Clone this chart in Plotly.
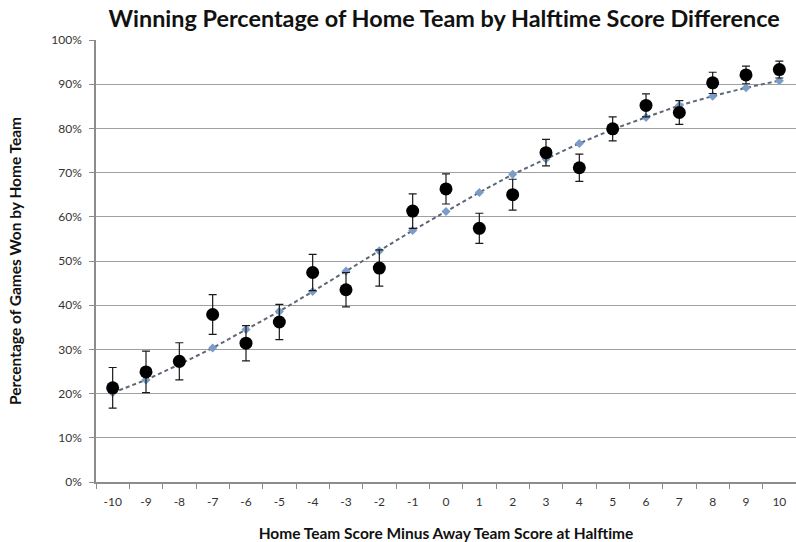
import plotly.graph_objects as go

categories = [str(v) for v in range(-10, 11)]
actual_pct = [0.213, 0.249, 0.273, 0.379, 0.314, 0.362, 0.474, 0.435, 0.484, 0.613,
              0.663, 0.574, 0.650, 0.745, 0.711, 0.799, 0.852, 0.836, 0.903, 0.921, 0.933]
error_pct = [0.046, 0.047, 0.042, 0.045, 0.040, 0.040, 0.041, 0.039, 0.041, 0.039,
             0.034, 0.034, 0.035, 0.030, 0.031, 0.027, 0.026, 0.027, 0.024, 0.020, 0.019]
fitted_pct = [0.202, 0.231, 0.266, 0.303, 0.345, 0.386, 0.431, 0.477, 0.523, 0.569,
              0.612, 0.655, 0.696, 0.731, 0.766, 0.798, 0.825, 0.852, 0.873, 0.892, 0.908]
y_ticks = [i / 10 for i in range(0, 11)]

fig = go.Figure()
fig.add_trace(go.Scatter(
    x=categories, y=fitted_pct, mode="lines+markers",
    line=dict(color="#5d6878", width=2, dash="4px,3px"),
    marker=dict(symbol="diamond", size=7, color="#7b9cc8"),
    showlegend=False,
))
fig.add_trace(go.Scatter(
    x=categories, y=actual_pct, mode="markers",
    marker=dict(symbol="circle", size=13, color="#000000"),
    error_y=dict(type="data", array=error_pct, visible=True,
                 color="#1a1a1a", thickness=1.2, width=4),
    showlegend=False,
))

font_family = "Lato, 'Open Sans', sans-serif"
fig.update_layout(
    width=796, height=542,
    margin=dict(l=96, r=0, t=40, b=60),
    paper_bgcolor="white", plot_bgcolor="white",
    font=dict(family=font_family, color="#222222"),
    title=dict(text="<b>Winning Percentage of Home Team by Halftime Score Difference</b>",
               x=0.558, xanchor="center", y=0.966, yanchor="middle",
               font=dict(size=23.4, color="#111111", family=font_family)),
)
fig.update_xaxes(
    type="category", range=[-0.5, 20.5], tickson="boundaries", ticks="outside", ticklen=5,
    tickcolor="#8c8c8c", showline=True, linecolor="#8c8c8c", linewidth=1.5,
    showgrid=False, tickfont=dict(size=12, color="#333333"), ticklabelstandoff=8,
    title=dict(text="<b>Home Team Score Minus Away Team Score at Halftime</b>",
               font=dict(size=15.5, color="#111111"), standoff=20),
)
fig.update_yaxes(
    range=[0, 1], tickvals=y_ticks, tickformat=".0%", ticks="outside", ticklen=5,
    tickcolor="#8c8c8c", showline=True, linecolor="#8c8c8c", linewidth=1.5,
    showgrid=True, gridcolor="#a0a0a0", gridwidth=1.3, zeroline=False,
    tickfont=dict(size=12, color="#333333"), ticklabelstandoff=5,
    title=dict(text="<b>Percentage of Games Won by Home Team</b>",
               font=dict(size=15.5, color="#111111"), standoff=26),
)
fig.write_html("out.html")
